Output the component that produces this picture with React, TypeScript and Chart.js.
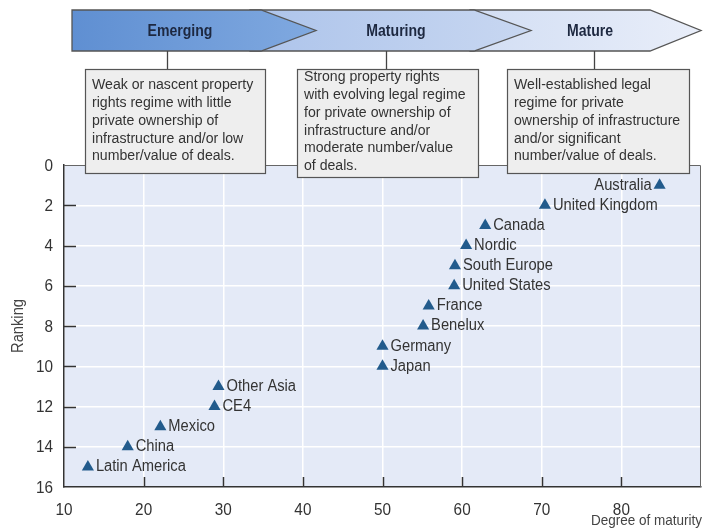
import React, { useEffect, useRef } from "react";
import { Chart, registerables } from "chart.js";

Chart.register(...registerables);

const countries = [
  "Australia", "United Kingdom", "Canada", "Nordic", "South Europe",
  "United States", "France", "Benelux", "Germany", "Japan",
  "Other Asia", "CE4", "Mexico", "China", "Latin America",
];
const maturity = [84.8, 70.4, 62.9, 60.5, 59.1, 59.0, 55.8, 55.1, 50.0, 50.0, 29.4, 28.9, 22.1, 18.0, 13.0];
const ranking = [1, 2, 3, 4, 5, 6, 7, 8, 9, 10, 11, 12, 13, 14, 15];
const leftLabelled = ["Australia"];

const xTickValues = [10, 20, 30, 40, 50, 60, 70, 80];
const yTickValues = [0, 2, 4, 6, 8, 10, 12, 14, 16];
const xTitle = "Degree of maturity";
const yTitle = "Ranking";

const stages = ["Emerging", "Maturing", "Mature"];
const stageNotes = [
  ["Weak or nascent property", "rights regime with little", "private ownership of", "infrastructure and/or low", "number/value of deals."],
  ["Strong property rights", "with evolving legal regime", "for private ownership of", "infrastructure and/or", "moderate number/value", "of deals."],
  ["Well-established legal", "regime for private", "ownership of infrastructure", "and/or significant", "number/value of deals."],
];

const FONT = "'Liberation Sans', Arial, sans-serif";

// layout of the decorative header (style, not data)
const ARROWS = [
  { x0: 72, xf: 261, xt: 316, c0: "#5f8fd2", c1: "#80a9e0", label: 180 },
  { x0: 250, xf: 474, xt: 531, c0: "#adc4eb", c1: "#c8d7f1", label: 396 },
  { x0: 470, xf: 650, xt: 701, c0: "#d2def4", c1: "#e9eef9", label: 590 },
];
const BOXES = [
  { x: 85, y: 69, w: 180, h: 104, first: 85, conn: 167 },
  { x: 297, y: 69, w: 181, h: 108, first: 77, conn: 386 },
  { x: 507, y: 69, w: 182, h: 104, first: 85, conn: 594 },
];

function txt(ctx: any, s: string, x: number, y: number, o: any) {
  ctx.save();
  ctx.font = `${o.bold ? "bold " : ""}${o.size}px ${FONT}`;
  ctx.fillStyle = o.color || "#333";
  ctx.textAlign = o.align || "left";
  ctx.textBaseline = "middle";
  ctx.translate(x, y);
  if (o.rotate) ctx.rotate(o.rotate);
  ctx.scale(o.sx || 0.9, 1);
  ctx.fillText(s, 0, 0);
  ctx.restore();
}

const decorPlugin = {
  id: "decor",
  beforeDraw(chart: any) {
    const { ctx, chartArea: a } = chart;
    ctx.save();
    ctx.fillStyle = "#ffffff";
    ctx.fillRect(0, 0, chart.width, chart.height);
    ctx.fillStyle = "#e4eaf7";
    ctx.fillRect(a.left, a.top, a.right - a.left, a.bottom - a.top);
    ctx.restore();
  },
  afterDatasetsDraw(chart: any) {
    const { ctx, chartArea: a, scales } = chart;
    ctx.save();
    // inner tick marks
    ctx.strokeStyle = "#333";
    ctx.lineWidth = 1.5;
    yTickValues.forEach((v) => {
      if (v === 0 || v === 16) return;
      const y = Math.round(scales.y.getPixelForValue(v)) + 0.5;
      ctx.beginPath();
      ctx.moveTo(a.left, y);
      ctx.lineTo(a.left + 12, y);
      ctx.stroke();
    });
    xTickValues.forEach((v) => {
      if (v === 10) return;
      const x = Math.round(scales.x.getPixelForValue(v)) + 0.5;
      ctx.beginPath();
      ctx.moveTo(x, a.bottom);
      ctx.lineTo(x, a.bottom - 10);
      ctx.stroke();
    });
    // top and right frame
    ctx.strokeStyle = "#666";
    ctx.lineWidth = 1;
    ctx.beginPath();
    ctx.moveTo(a.left, a.top + 0.5);
    ctx.lineTo(a.right - 0.5, a.top + 0.5);
    ctx.lineTo(a.right - 0.5, a.bottom);
    ctx.stroke();
    ctx.restore();

    // tick labels
    yTickValues.forEach((v) => {
      txt(ctx, String(v), a.left - 11, scales.y.getPixelForValue(v) + 1, { size: 17, align: "right", color: "#333", sx: 0.9 });
    });
    xTickValues.forEach((v) => {
      txt(ctx, String(v), scales.x.getPixelForValue(v), a.bottom + 23, { size: 17, align: "center", color: "#333", sx: 0.9 });
    });

    // data labels
    const meta = chart.getDatasetMeta(0);
    meta.data.forEach((pt: any, i: number) => {
      const name = countries[i];
      if (leftLabelled.includes(name)) {
        txt(ctx, name, pt.x - 8, pt.y, { size: 16, align: "right", color: "#333", sx: 0.92 });
      } else {
        txt(ctx, name, pt.x + 8, pt.y, { size: 16, align: "left", color: "#333", sx: 0.92 });
      }
    });
    // axis titles
    txt(ctx, xTitle, 702, 521, { size: 15, align: "right", color: "#444", sx: 0.9 });
    txt(ctx, yTitle, 19, 326, { size: 16, align: "center", color: "#444", sx: 0.92, rotate: -Math.PI / 2 });
  },
  afterDraw(chart: any) {
    const { ctx } = chart;
    ctx.save();
    const top = 10, bot = 51, mid = 30.5;
    for (let i = ARROWS.length - 1; i >= 0; i--) {
      const ar = ARROWS[i];
      const g = ctx.createLinearGradient(ar.x0, 0, ar.xt, 0);
      g.addColorStop(0, ar.c0);
      g.addColorStop(1, ar.c1);
      ctx.beginPath();
      ctx.moveTo(ar.x0, top);
      ctx.lineTo(ar.xf, top);
      ctx.lineTo(ar.xt, mid);
      ctx.lineTo(ar.xf, bot);
      ctx.lineTo(ar.x0, bot);
      ctx.closePath();
      ctx.fillStyle = g;
      ctx.fill();
      ctx.strokeStyle = "#555";
      ctx.lineWidth = 1.3;
      ctx.stroke();
    }
    stages.forEach((s, i) => txt(ctx, s, ARROWS[i].label, mid + 1, { size: 16, bold: true, align: "center", color: "#1d2840", sx: 0.88 }));

    BOXES.forEach((b, i) => {
      ctx.strokeStyle = "#444";
      ctx.lineWidth = 1.3;
      ctx.beginPath();
      ctx.moveTo(b.conn + 0.5, bot);
      ctx.lineTo(b.conn + 0.5, b.y);
      ctx.stroke();
      ctx.fillStyle = "#eeeeee";
      ctx.fillRect(b.x, b.y, b.w, b.h);
      ctx.strokeStyle = "#555";
      ctx.lineWidth = 1.2;
      ctx.strokeRect(b.x + 0.5, b.y + 0.5, b.w, b.h);
      stageNotes[i].forEach((line, j) =>
        txt(ctx, line, b.x + 7, b.first + j * 17.8, { size: 15.5, align: "left", color: "#333", sx: 0.91 })
      );
    });
    ctx.restore();
  },
};

export default function App() {
  const ref = useRef<HTMLCanvasElement | null>(null);
  useEffect(() => {
    document.body.style.margin = "0";
    const chart = new Chart(ref.current as HTMLCanvasElement, {
      type: "scatter",
      data: {
        datasets: [
          {
            data: maturity.map((m, i) => ({ x: m, y: ranking[i] })),
            pointStyle: "triangle",
            pointRadius: 7,
            pointBackgroundColor: "#225b8c",
            pointBorderWidth: 0,
          },
        ],
      },
      options: {
        animation: false,
        responsive: false,
        layout: { autoPadding: false, padding: { top: 165, right: 2, left: 0, bottom: 0 } },
        plugins: { legend: { display: false }, tooltip: { enabled: false } },
        scales: {
          x: {
            type: "linear",
            min: 10,
            max: 90,
            afterBuildTicks: (s: any) => {
              s.ticks = [...xTickValues, 90].map((v) => ({ value: v }));
            },
            ticks: { display: false },
            grid: { color: "#ffffff", lineWidth: 1.5, drawTicks: false },
            border: { color: "#333", width: 1.5 },
            afterFit: (s: any) => {
              s.height = 44;
              s.paddingLeft = 0;
              s.paddingRight = 0;
            },
          },
          y: {
            type: "linear",
            reverse: true,
            min: 0,
            max: 16,
            afterBuildTicks: (s: any) => {
              s.ticks = yTickValues.map((v) => ({ value: v }));
            },
            ticks: { display: false },
            grid: { color: "#ffffff", lineWidth: 1.5, drawTicks: false },
            border: { color: "#333", width: 1.5 },
            afterFit: (s: any) => {
              s.width = 64;
              s.paddingTop = 0;
              s.paddingBottom = 0;
            },
          },
        },
      },
      plugins: [decorPlugin],
    } as any);
    return () => chart.destroy();
  }, []);
  return (
    <div style={{ position: "absolute", left: 0, top: 0, width: 703, height: 531 }}>
      <canvas ref={ref} width={703} height={531} style={{ display: "block" }} />
    </div>
  );
}
